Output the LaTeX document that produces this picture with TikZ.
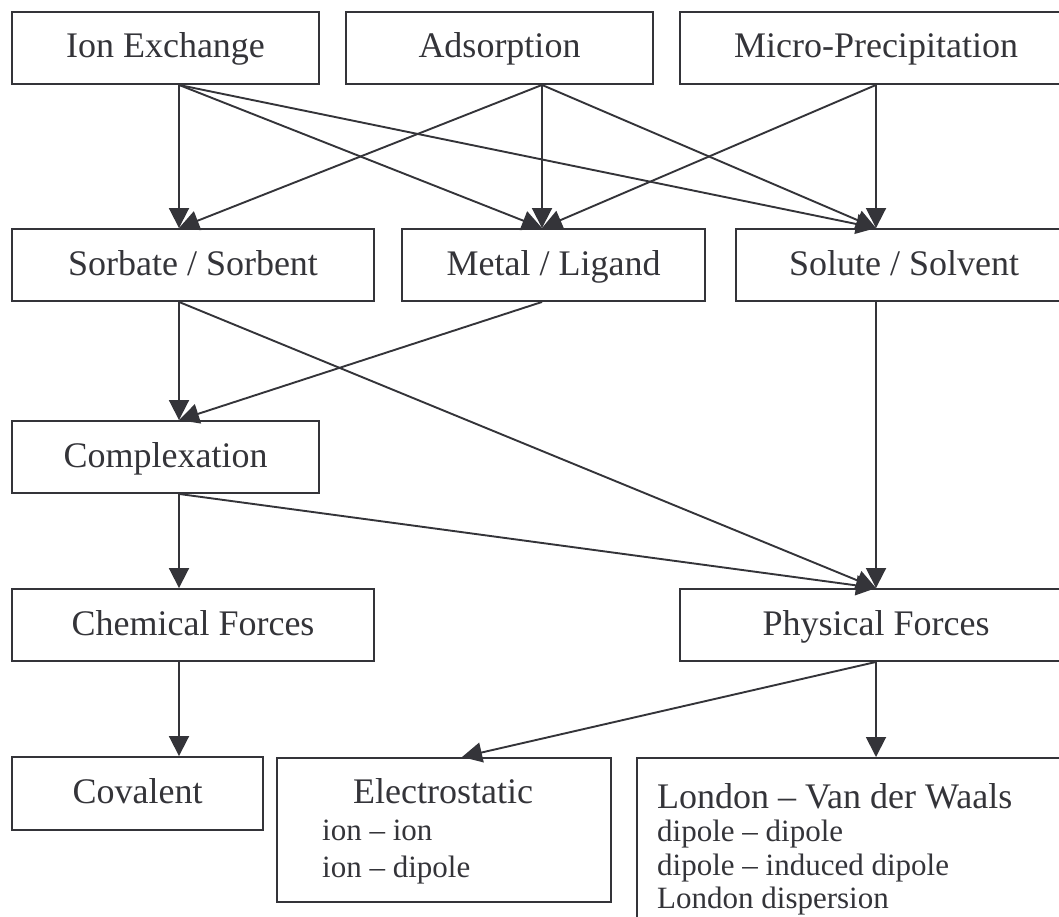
\documentclass[tikz,border=0pt]{standalone}
\usepackage{fontspec}
\setmainfont{Liberation Serif}
\usetikzlibrary{arrows.meta}
\definecolor{ink}{RGB}{52,52,57}
\begin{document}
\begin{tikzpicture}[x=1pt,y=-1pt,
  box/.style={draw=ink, line width=1.9pt, text=ink, font=\fontsize{36}{40}\selectfont,
    inner sep=0pt, text height=20pt, text depth=0pt, anchor=center},
  frame/.style={draw=ink, line width=1.9pt, inner sep=0pt, anchor=north west},
  title/.style={text=ink, font=\fontsize{36}{40}\selectfont, inner sep=0pt},
  sub/.style={text=ink, font=\fontsize{31}{36}\selectfont, inner sep=0pt, anchor=base west},
  arr/.style={draw=ink, line width=1.9pt, -{Triangle[length=20pt,width=20pt]}}]
\useasboundingbox (0,0) rectangle (1059,917);
\clip (0,0) rectangle (1059,917);
% columns
\coordinate (c1) at (179,0);
\coordinate (c2) at (542,0);
\coordinate (c3) at (876,0);
\coordinate (c4) at (462,0);
% row 1
\node[box, minimum width=307pt, minimum height=72pt] (ie) at (165.5,48) {Ion Exchange};
\node[box, minimum width=307pt, minimum height=72pt] (ad) at (499.5,48) {Adsorption};
\node[box, minimum width=392pt, minimum height=72pt] (mp) at (876,48) {Micro-Precipitation};
% row 2
\node[box, minimum width=362pt, minimum height=72pt] (ss) at (193,265) {Sorbate / Sorbent};
\node[box, minimum width=303pt, minimum height=72pt] (ml) at (553.5,265) {Metal / Ligand};
\node[box, minimum width=336pt, minimum height=72pt] (sol) at (904,265) {Solute / Solvent};
% row 3
\node[box, minimum width=307pt, minimum height=72pt] (cx) at (165.5,457) {Complexation};
% row 4
\node[box, minimum width=362pt, minimum height=72pt] (cf) at (193,625) {Chemical Forces};
\node[box, minimum width=392pt, minimum height=72pt] (pf) at (876,625) {Physical Forces};
% row 5
\node[box, minimum width=251pt, minimum height=73pt] (cov) at (137.5,793.5) {Covalent};
\node[frame, minimum width=334pt, minimum height=144pt] (el) at (276,757) {};
\node[title, anchor=base] (elt) at (443,803) {Electrostatic};
\node[sub] (el1) at (322,840) {ion – ion};
\node[sub] (el2) at (322,877) {ion – dipole};
\node[frame, minimum width=450pt, minimum height=200pt] (lon) at (636,757) {};
\node[title, anchor=base west] (lont) at (657,808) {London – Van der Waals};
\node[sub] (lon1) at (657,841) {dipole – dipole};
\node[sub] (lon2) at (657,875) {dipole – induced dipole};
\node[sub] (lon3) at (657,908) {London dispersion};
% connectors
\draw[arr] (ie.south -| c1) -- (ss.north -| c1);
\draw[arr] (ie.south -| c1) -- (ml.north -| c2);
\draw[arr] (ie.south -| c1) -- (sol.north -| c3);
\draw[arr] (ad.south -| c2) -- (ss.north -| c1);
\draw[arr] (ad.south -| c2) -- (ml.north -| c2);
\draw[arr] (ad.south -| c2) -- (sol.north -| c3);
\draw[arr] (mp.south -| c3) -- (ml.north -| c2);
\draw[arr] (mp.south -| c3) -- (sol.north -| c3);
\draw[arr] (ss.south -| c1) -- (cx.north -| c1);
\draw[arr] (ml.south -| c2) -- (cx.north -| c1);
\draw[arr] (ss.south -| c1) -- (pf.north -| c3);
\draw[arr] (sol.south -| c3) -- (pf.north -| c3);
\draw[arr] (cx.south -| c1) -- (pf.north -| c3);
\draw[arr] (cx.south -| c1) -- (cf.north -| c1);
\draw[arr] (cf.south -| c1) -- (cov.north -| c1);
\draw[arr] (pf.south -| c3) -- (el.north -| c4);
\draw[arr] (pf.south -| c3) -- (lon.north -| c3);
\end{tikzpicture}
\end{document}
